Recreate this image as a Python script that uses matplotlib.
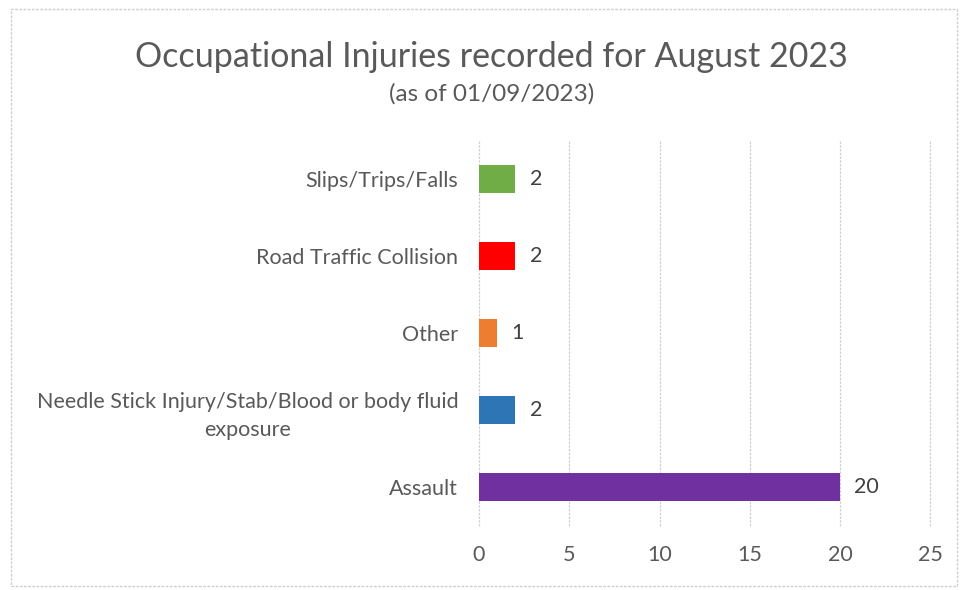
import matplotlib.pyplot as plt
from matplotlib.patches import Rectangle

categories = ['Assault', 'Needle Stick Injury/Stab/Blood or body fluid\nexposure',
              'Other', 'Road Traffic Collision', 'Slips/Trips/Falls']
counts = [20, 2, 1, 2, 2]
colors = ['#7030A0', '#2E75B6', '#ED7D31', '#FF0000', '#70AD47']
xticks = [0, 5, 10, 15, 20, 25]

plt.rcParams['font.family'] = ['Lato', 'DejaVu Sans']
txt = '#595959'

fig = plt.figure(figsize=(9.6, 5.9), dpi=100)
ax = fig.add_axes([0.499, 0.109, 0.47, 0.653])

ax.barh(range(len(categories)), counts, height=0.36, color=colors, zorder=3)
for i, v in enumerate(counts):
    ax.text(v + 0.8, i, str(v), va='center', ha='left', fontsize=15.5, color='#404040')

ax.set_xlim(0, 25)
ax.set_ylim(-0.5, len(categories) - 0.5)
ax.set_xticks(xticks)
ax.set_yticks(range(len(categories)))
ax.set_yticklabels(categories, fontsize=15.5, color=txt, linespacing=1.5,
                   multialignment='center')
ax.tick_params(axis='both', length=0, colors=txt)
ax.tick_params(axis='x', pad=14, labelsize=15.5)
ax.tick_params(axis='y', pad=15)
ax.grid(axis='x', color='#D0D0D0', ls=(0, (2, 1)), lw=0.9, zorder=0)
for gl in ax.get_xgridlines():
    gl.set_clip_on(False)
for s in ax.spines.values():
    s.set_visible(False)

fig.text(0.512, 0.904, 'Occupational Injuries recorded for August 2023',
         ha='center', va='center', fontsize=24.5, color=txt)
fig.text(0.512, 0.841, '(as of 01/09/2023)', ha='center', va='center',
         fontsize=17.5, color=txt)

fig.patches.append(Rectangle((0.011, 0.007), 0.986, 0.977, transform=fig.transFigure,
                             fill=False, ec='#D0D0D0', lw=1, ls=(0, (2, 1))))

fig.savefig('out.png', dpi=100)
